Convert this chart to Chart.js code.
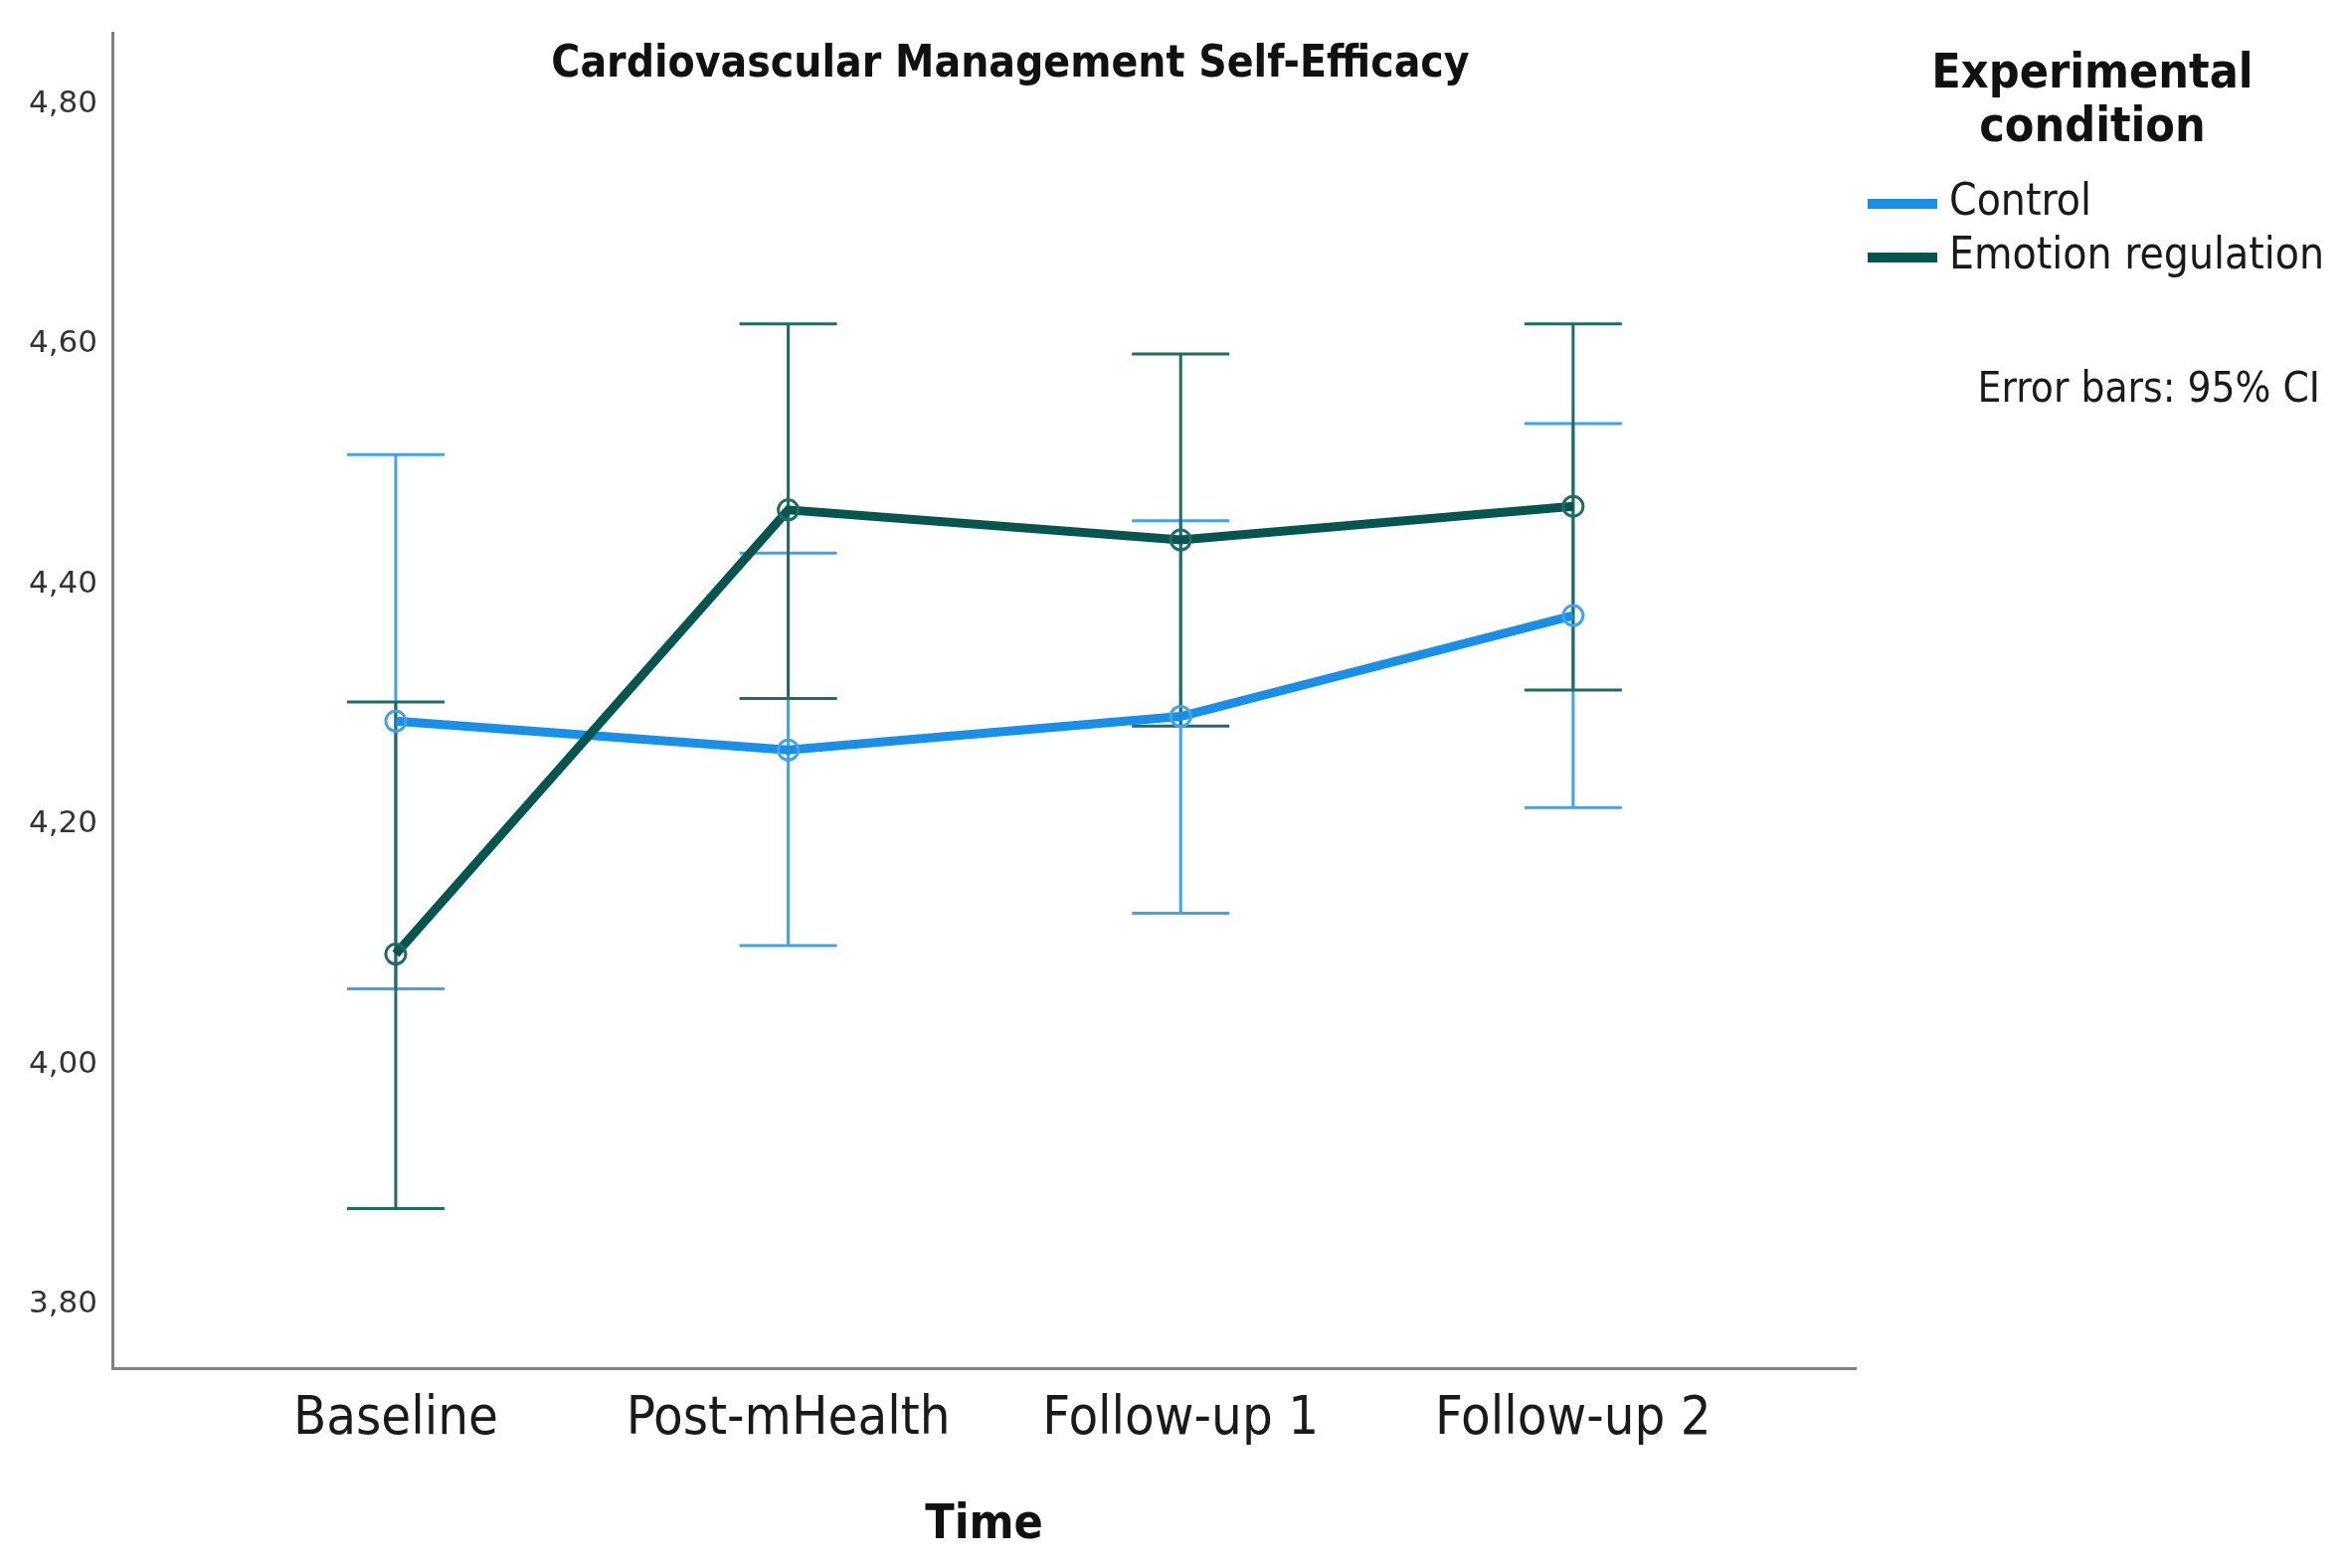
<!DOCTYPE html>
<html>
<head>
<meta charset="utf-8">
<title>Cardiovascular Management Self-Efficacy</title>
<script src="https://cdn.jsdelivr.net/npm/chart.js@4.4.1/dist/chart.umd.min.js"></script>
<style>
    html, body { margin: 0; padding: 0; background: #fff; }
    #wrap { width: 2358px; height: 1577px; }
</style>
</head>
<body>
<div id="wrap"><canvas id="chart" width="2358" height="1577"></canvas></div>
<script>
// data (means and 95% CI bounds)
const timePoints = ['Baseline', 'Post-mHealth', 'Follow-up 1', 'Follow-up 2'];
const controlMean = [4.286, 4.262, 4.290, 4.374];
const controlLow = [4.063, 4.099, 4.126, 4.214];
const controlHigh = [4.508, 4.426, 4.453, 4.534];
const emotionMean = [4.092, 4.462, 4.437, 4.465];
const emotionLow = [3.880, 4.305, 4.282, 4.312];
const emotionHigh = [4.302, 4.617, 4.592, 4.617];
const yTicks = [3.8, 4.0, 4.2, 4.4, 4.6, 4.8];

const condFont = "'DejaVu Sans Condensed', 'DejaVu Sans', sans-serif";

const blueLine = '#1A8FE8';
const blueBar = '#3FA3EE';
const greenLine = '#06564F';
const greenBar = '#226B64';

// error bars, drawn from the arrays through the chart scales
const errorBars = {
    id: 'errorBars',
    beforeDatasetsDraw(chart) {
        const ctx = chart.ctx;
        const x = chart.scales.x, y = chart.scales.y;
        const series = [
            { low: controlLow, high: controlHigh, color: blueBar },
            { low: emotionLow, high: emotionHigh, color: greenBar }
        ];
        const half = 49;
        ctx.save();
        ctx.lineWidth = 3;
        series.forEach(s => {
            ctx.strokeStyle = s.color;
            for (let i = 0; i < timePoints.length; i++) {
                const px = x.getPixelForValue(i);
                const top = y.getPixelForValue(s.high[i]);
                const bot = y.getPixelForValue(s.low[i]);
                ctx.beginPath();
                ctx.moveTo(px, top);
                ctx.lineTo(px, bot);
                ctx.moveTo(px - half, top);
                ctx.lineTo(px + half, top);
                ctx.moveTo(px - half, bot);
                ctx.lineTo(px + half, bot);
                ctx.stroke();
            }
        });
        ctx.restore();
    }
};

// title and legend block
const sideText = {
    id: 'sideText',
    afterDraw(chart) {
        const ctx = chart.ctx;
        ctx.save();
        ctx.fillStyle = '#111';
        ctx.textAlign = 'center';
        ctx.textBaseline = 'middle';
        ctx.font = 'bold 44px ' + condFont;
        ctx.fillText('Cardiovascular Management Self-Efficacy', 1016, 66);

        ctx.font = 'bold 48px ' + condFont;
        ctx.fillText('Experimental', 2104, 76);
        ctx.fillText('condition', 2104, 130);

        const items = [['Control', blueLine, 205], ['Emotion regulation', greenLine, 259]];
        ctx.textAlign = 'left';
        ctx.font = '44px ' + condFont;
        items.forEach(it => {
            ctx.fillStyle = it[1];
            ctx.fillRect(1878, it[2] - 5, 70, 10);
            ctx.fillStyle = '#1a1a1a';
            ctx.fillText(it[0], 1960, it[2]);
        });

        ctx.textAlign = 'right';
        ctx.font = '42px ' + condFont;
        ctx.fillText('Error bars: 95% CI', 2333, 393);
        ctx.restore();
    }
};

new Chart(document.getElementById('chart'), {
    type: 'line',
    data: {
        datasets: [
            {
                label: 'Control',
                data: controlMean.map((v, i) => ({ x: i, y: v })),
                borderColor: blueLine,
                borderWidth: 9,
                pointRadius: 10,
                pointBorderWidth: 3,
                pointBorderColor: blueBar,
                pointBackgroundColor: 'rgba(0,0,0,0)',
                tension: 0,
                order: 2
            },
            {
                label: 'Emotion regulation',
                data: emotionMean.map((v, i) => ({ x: i, y: v })),
                borderColor: greenLine,
                borderWidth: 9,
                pointRadius: 10,
                pointBorderWidth: 3,
                pointBorderColor: greenBar,
                pointBackgroundColor: 'rgba(0,0,0,0)',
                tension: 0,
                order: 1
            }
        ]
    },
    options: {
        responsive: false,
        devicePixelRatio: 1,
        animation: false,
        layout: { padding: { left: 0, top: 26, right: 492, bottom: 0 } },
        plugins: {
            legend: { display: false },
            tooltip: { enabled: false },
            title: { display: false }
        },
        scales: {
            x: {
                type: 'linear',
                min: -0.722,
                max: 3.72,
                afterBuildTicks: s => { s.ticks = timePoints.map((t, i) => ({ value: i })); },
                afterFit: s => { s.height = 201; },
                ticks: {
                    callback: v => timePoints[v],
                    font: { family: condFont, size: 54 },
                    color: '#1a1a1a',
                    padding: 20,
                    autoSkip: false,
                    maxRotation: 0
                },
                grid: { display: false, drawTicks: false },
                border: { display: true, color: '#808080', width: 3 },
                title: {
                    display: true,
                    text: 'Time',
                    font: { family: condFont, size: 48, weight: 'bold' },
                    color: '#111',
                    padding: { top: 0, bottom: 14 }
                }
            },
            y: {
                min: 3.747,
                max: 4.859,
                afterBuildTicks: s => { s.ticks = yTicks.map(v => ({ value: v })); },
                afterFit: s => { s.width = 113; },
                ticks: {
                    callback: v => v.toFixed(2).replace('.', ','),
                    font: { family: "'DejaVu Sans', sans-serif", size: 31 },
                    color: '#333',
                    padding: 15
                },
                grid: { display: false, drawTicks: false },
                border: { display: true, color: '#808080', width: 3 }
            }
        }
    },
    plugins: [errorBars, sideText]
});
</script>
</body>
</html>
